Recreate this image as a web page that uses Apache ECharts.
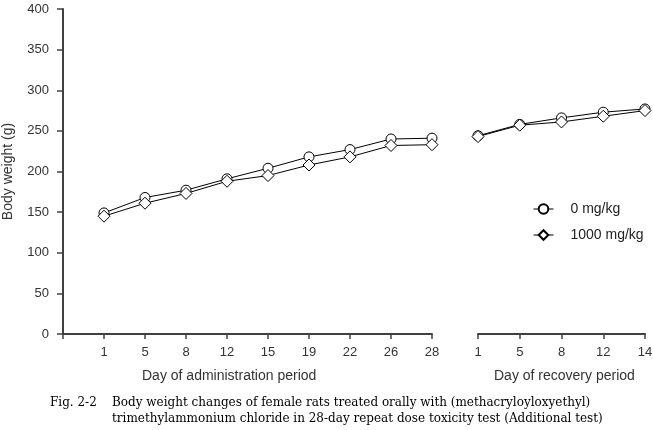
<!DOCTYPE html>
<html>
<head>
<meta charset="utf-8">
<script src="https://cdn.jsdelivr.net/npm/echarts@6/dist/echarts.min.js"></script>
<style>
html,body{margin:0;padding:0;background:#fff;}
#c{width:653px;height:430px;}
</style>
</head>
<body>
<div id="c"></div>
<script>
// Data
var adminDays = ['1', '5', '8', '12', '15', '19', '22', '26', '28'];
var recoveryDays = ['1', '5', '8', '12', '14'];
var admin0 = [149, 168, 177, 191, 204, 218, 227, 240, 241];
var admin1000 = [145, 161, 173, 188, 195, 208, 218, 232, 233];
var recov0 = [244, 258, 266, 273, 277];
var recov1000 = [243, 257, 261, 268, 275];
var yTicks = [0, 50, 100, 150, 200, 250, 300, 350, 400];
var seriesNames = ['0 mg/kg', '1000 mg/kg'];

var chart = echarts.init(document.getElementById('c'), null, {renderer: 'canvas'});
var axisColor = '#404040';
var labelColor = '#333';
var font = 'Liberation Sans, Arial, sans-serif';
var serif = '"DejaVu Serif", "Liberation Serif", serif';

function xAx(gi, cats) {
  return {
    type: 'category', gridIndex: gi, data: cats, boundaryGap: false,
    axisLine: {show: true, lineStyle: {color: axisColor, width: 2}},
    axisTick: {show: true, alignWithLabel: true, length: 5, inside: false, lineStyle: {color: axisColor, width: 1.5}, interval: 0},
    axisLabel: {color: labelColor, fontSize: 13, fontFamily: font, margin: 12, interval: 0},
    splitLine: {show: false}
  };
}

var lineStyle = {color: '#000', width: 1};
function ser(name, xi, data, symbol, size) {
  return {
    name: name, type: 'line', xAxisIndex: xi, yAxisIndex: xi, data: data,
    symbol: symbol, symbolSize: size, showSymbol: true,
    lineStyle: lineStyle,
    itemStyle: {color: '#fff', borderColor: '#000', borderWidth: 1},
    animation: false, connectNulls: false
  };
}

var option = {
  backgroundColor: '#fff',
  animation: false,
  grid: [
    {left: 63, right: 221, top: 9, bottom: 96, containLabel: false, outerBoundsMode: 'none'},
    {left: 478, right: 8, top: 9, bottom: 96, containLabel: false, outerBoundsMode: 'none'}
  ],
  xAxis: [
    xAx(0, [''].concat(adminDays)),
    xAx(1, recoveryDays)
  ],
  yAxis: [
    {
      type: 'value', gridIndex: 0, min: yTicks[0], max: yTicks[yTicks.length - 1], interval: 50,
      name: 'Body weight (g)', nameLocation: 'middle', nameGap: 48,
      nameTextStyle: {color: labelColor, fontSize: 14, fontFamily: font},
      axisLine: {show: true, lineStyle: {color: axisColor, width: 2}},
      axisTick: {show: true, length: 6, lineStyle: {color: axisColor, width: 1.5}},
      axisLabel: {color: labelColor, fontSize: 13, fontFamily: font, margin: 14},
      splitLine: {show: false}
    },
    {
      type: 'value', gridIndex: 1, min: yTicks[0], max: yTicks[yTicks.length - 1], interval: 50,
      show: false, splitLine: {show: false}
    }
  ],
  legend: {
    orient: 'vertical', left: 528, top: 197, itemGap: 12, itemWidth: 20, itemHeight: 12,
    data: seriesNames,
    lineStyle: {width: 1},
    textStyle: {color: '#222', fontSize: 14, fontFamily: font, padding: [0, 0, 0, 12]}
  },
  series: [
    ser(seriesNames[0], 0, [null].concat(admin0), 'circle', 10),
    ser(seriesNames[1], 0, [null].concat(admin1000), 'diamond', 12),
    ser(seriesNames[0], 1, recov0, 'circle', 10),
    ser(seriesNames[1], 1, recov1000, 'diamond', 12)
  ],
  graphic: [
    {type: 'text', left: 142, top: 369, style: {text: 'Day of administration period', fill: labelColor, font: '14px ' + font}},
    {type: 'text', left: 494, top: 369, style: {text: 'Day of recovery period', fill: labelColor, font: '14px ' + font}},
    {type: 'text', left: 50, top: 397, style: {text: 'Fig. 2-2', fill: '#000', font: '12px ' + serif}},
    {type: 'text', left: 112, top: 397, style: {text: 'Body weight changes of female rats treated orally with (methacryloyloxyethyl)', fill: '#000', font: '12px ' + serif}},
    {type: 'text', left: 112, top: 413, style: {text: 'trimethylammonium chloride in 28-day repeat dose toxicity test (Additional test)', fill: '#000', font: '12px ' + serif}}
  ]
};
chart.setOption(option);
</script>
</body>
</html>
